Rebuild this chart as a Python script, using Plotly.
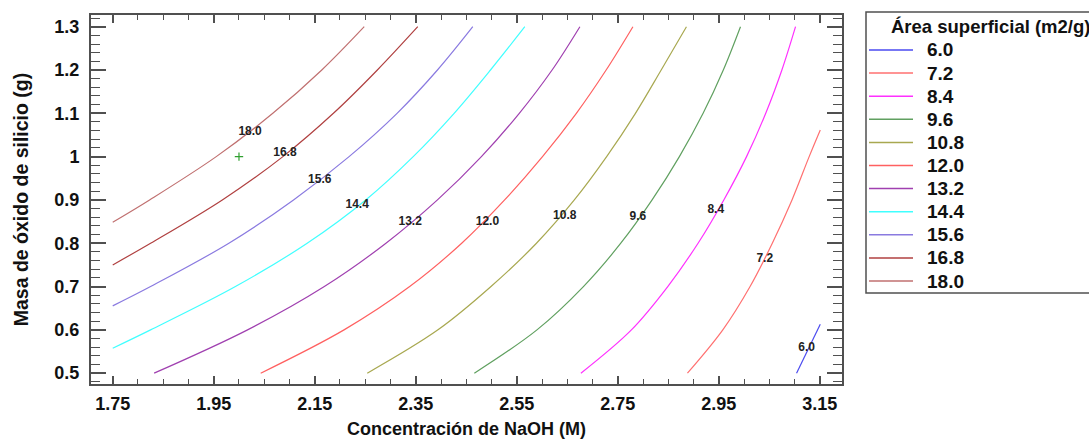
import plotly.graph_objects as go

# Contour levels (Área superficial, m2/g) and their colours
levels = ["6.0", "7.2", "8.4", "9.6", "10.8", "12.0", "13.2", "14.4", "15.6", "16.8", "18.0"]
colors = ["#4a4af0", "#ff7070", "#ff30ff", "#60a060", "#a8a850", "#ff6060",
          "#a040b0", "#40ffff", "#8a7ae0", "#b04040", "#c07070"]

# Contour line points (NaOH concentration, SiO2 mass)
x_6_0 = [3.104, 3.151]
y_6_0 = [0.500, 0.613]
x_7_2 = [2.888, 2.958, 3.012, 3.056, 3.095, 3.129, 3.151]
y_7_2 = [0.500, 0.600, 0.700, 0.800, 0.900, 1.000, 1.0615]
x_8_4 = [2.677, 2.777, 2.849, 2.909, 2.960, 3.005, 3.043, 3.075, 3.102]
y_8_4 = [0.500, 0.600, 0.700, 0.800, 0.900, 1.000, 1.100, 1.200, 1.300]
x_9_6 = [2.466, 2.590, 2.682, 2.756, 2.818, 2.872, 2.919, 2.959, 2.993]
y_9_6 = [0.500, 0.600, 0.700, 0.800, 0.900, 1.000, 1.100, 1.200, 1.300]
x_10_8 = [2.254, 2.394, 2.499, 2.589, 2.664, 2.728, 2.785, 2.836, 2.886]
y_10_8 = [0.500, 0.600, 0.700, 0.800, 0.900, 1.000, 1.100, 1.200, 1.300]
x_12_0 = [2.043, 2.208, 2.338, 2.441, 2.526, 2.601, 2.668, 2.727, 2.780]
y_12_0 = [0.500, 0.600, 0.700, 0.800, 0.900, 1.000, 1.100, 1.200, 1.300]
x_13_2 = [1.832, 2.017, 2.169, 2.291, 2.393, 2.480, 2.555, 2.620, 2.675]
y_13_2 = [0.500, 0.600, 0.700, 0.800, 0.900, 1.000, 1.100, 1.200, 1.300]
x_14_4 = [1.750, 1.825, 1.993, 2.135, 2.251, 2.345, 2.426, 2.498, 2.566]
y_14_4 = [0.5577, 0.600, 0.700, 0.800, 0.900, 1.000, 1.100, 1.200, 1.300]
x_15_6 = [1.750, 1.825, 1.980, 2.108, 2.218, 2.313, 2.393, 2.463]
y_15_6 = [0.6554, 0.700, 0.800, 0.900, 1.000, 1.100, 1.200, 1.300]
x_16_8 = [1.750, 1.825, 1.967, 2.087, 2.187, 2.274, 2.354]
y_16_8 = [0.750, 0.800, 0.900, 1.000, 1.100, 1.200, 1.300]
x_18_0 = [1.750, 1.823, 1.955, 2.067, 2.164, 2.248]
y_18_0 = [0.8485, 0.900, 1.000, 1.100, 1.200, 1.300]

lines_x = [x_6_0, x_7_2, x_8_4, x_9_6, x_10_8, x_12_0, x_13_2, x_14_4, x_15_6, x_16_8, x_18_0]
lines_y = [y_6_0, y_7_2, y_8_4, y_9_6, y_10_8, y_12_0, y_13_2, y_14_4, y_15_6, y_16_8, y_18_0]

# Contour label positions
label_x = [3.124, 3.041, 2.944, 2.790, 2.645, 2.492, 2.339, 2.234, 2.160, 2.091, 2.022]
label_y = [0.558, 0.763, 0.877, 0.861, 0.863, 0.850, 0.848, 0.889, 0.946, 1.008, 1.058]

# Optimum point marker
opt_x = [2.0]
opt_y = [1.0]

x_ticks = [1.75, 1.95, 2.15, 2.35, 2.55, 2.75, 2.95, 3.15]
y_ticks = [0.5, 0.6, 0.7, 0.8, 0.9, 1.0, 1.1, 1.2, 1.3]
y_tick_text = ["0.5", "0.6", "0.7", "0.8", "0.9", "1", "1.1", "1.2", "1.3"]

legend_title = "Área superficial (m2/g)"

FONT = "Liberation Sans, Arial, sans-serif"
INK = "#111111"
FRAME = "#505050"

fig = go.Figure()
for lv, c, xs, ys in zip(levels, colors, lines_x, lines_y):
    fig.add_trace(go.Scatter(x=xs, y=ys, mode="lines", name=lv, showlegend=False,
                             line=dict(color=c, width=1.2, shape="spline", smoothing=1.0)))

fig.add_trace(go.Scatter(x=label_x, y=label_y, mode="text", text=levels,
                         textfont=dict(family=FONT, size=12, color="#222222", weight="bold"),
                         showlegend=False, hoverinfo="skip"))
fig.add_trace(go.Scatter(x=opt_x, y=opt_y, mode="markers", showlegend=False,
                         marker=dict(symbol="cross-thin", size=6, line=dict(color="#30a030", width=1.2))))

axis_common = dict(showgrid=False, zeroline=False, showline=True, linecolor=FRAME,
                   linewidth=2, mirror="allticks", ticks="inside", tickcolor=FRAME,
                   tickwidth=1.5, automargin=False,
                   tickfont=dict(family=FONT, size=18, color=INK, weight="bold"))

fig.update_xaxes(range=[1.707, 3.194], tickvals=x_ticks, ticklen=8,
                 ticklabelstandoff=2,
                 minor=dict(ticks="inside", dtick=0.05, tick0=1.75, ticklen=5,
                            tickcolor=FRAME, tickwidth=1.2),
                 title=dict(text="Concentración de NaOH (M)", standoff=10,
                            font=dict(family=FONT, size=18, color=INK, weight="bold")),
                 **axis_common)
fig.update_yaxes(range=[0.475, 1.327], tickvals=y_ticks, ticktext=y_tick_text, ticklen=15,
                 ticklabelstandoff=6,
                 minor=dict(ticks="inside", dtick=0.02, tick0=0.5, ticklen=9,
                            tickcolor=FRAME, tickwidth=1.2),
                 title=dict(text="Masa de óxido de silicio (g)", standoff=21,
                            font=dict(family=FONT, size=19.5, color=INK, weight="bold")),
                 **axis_common)

# Legend box drawn in paper coordinates (plot area spans 91..842 px, 15..384 px)
L, R, T, B = 91.0, 842.0, 15.0, 384.0
def px(xp):
    return (xp - L) / (R - L)
def py(yp):
    return (B - yp) / (B - T)

shapes = [dict(type="rect", xref="paper", yref="paper",
               x0=px(866), x1=px(1095), y0=py(293), y1=py(12),
               line=dict(color=FRAME, width=1.5), fillcolor="white", layer="below")]
annotations = [dict(xref="paper", yref="paper", x=px(889), y=py(27), xanchor="left",
                    yanchor="middle", text=legend_title, showarrow=False,
                    font=dict(family=FONT, size=18.5, color=INK, weight="bold"))]
for i, (lv, c) in enumerate(zip(levels, colors)):
    yc = 50 + 23.1 * i
    shapes.append(dict(type="line", xref="paper", yref="paper",
                       x0=px(869), x1=px(913), y0=py(yc), y1=py(yc),
                       line=dict(color=c, width=1.5)))
    annotations.append(dict(xref="paper", yref="paper", x=px(925), y=py(yc),
                            xanchor="left", yanchor="middle", text=lv, showarrow=False,
                            font=dict(family=FONT, size=19, color=INK, weight="bold")))

fig.update_layout(
    width=1089, height=441,
    margin=dict(l=91, r=247, t=15, b=57),
    paper_bgcolor="white", plot_bgcolor="white",
    font=dict(family=FONT),
    showlegend=False,
    shapes=shapes,
    annotations=annotations,
)

fig.write_html("out.html")
